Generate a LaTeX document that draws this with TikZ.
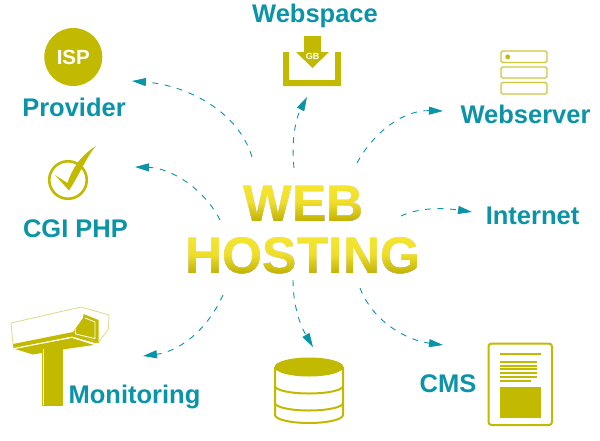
\documentclass[tikz,border=0pt]{standalone}
\usepackage{fontspec}
\setmainfont{Liberation Sans}
\usetikzlibrary{arrows.meta,shadings}
\definecolor{teal0}{HTML}{0B93A8}
\definecolor{olive0}{HTML}{C2BA00}
\definecolor{olivelight}{HTML}{DDD98A}
\definecolor{oliveline}{HTML}{CDC73E}
\tikzset{
  lab/.style={font=\fontsize{25.5}{26}\selectfont\bfseries,text=teal0,anchor=base,inner sep=0pt},
  title/.style={font=\fontsize{51.5}{52}\selectfont\bfseries,text=black,anchor=base,inner sep=0pt},
  flow/.style={draw=teal0,line width=0.9pt,dash pattern=on 6pt off 6.5pt,-{Triangle[length=14pt,width=8pt,fill=teal0]}},
  grad/.style={top color=F1,bottom color=F3,middle color=F2},
}
\definecolor{F1}{HTML}{F5E830}
\definecolor{F2}{HTML}{EEDE2A}
\definecolor{F3}{HTML}{BFB000}
\begin{document}
\begin{tikzpicture}[x=1pt,y=-1pt]
\useasboundingbox (0,0) rectangle (600,440);
\fill[white] (0,0) rectangle (600,440);
% title
\node[title] (web) at (303.5,221) {WEB};
\node[title] (hosting) at (303,273.5) {HOSTING};
\shade[grad,blend mode=lighten] (236,183) rectangle (370,221.5);
\shade[grad,blend mode=lighten] (180,234.5) rectangle (426,274.5);
% labels
\node[lab] (provider) at (74,116) {Provider};
\node[lab] (cgi) at (75.5,237) {CGI PHP};
\node[lab] (monitoring) at (134.5,403) {Monitoring};
\node[lab] (webspace) at (315,22) {Webspace};
\node[lab] (webserver) at (525.5,123) {Webserver};
\node[lab] (internet) at (532.5,224) {Internet};
\node[lab] (cms) at (448,392) {CMS};
% ISP
\node[circle,fill=olive0,minimum size=58pt,inner sep=0pt,text=white,font=\fontsize{20.5}{21}\selectfont\bfseries] (isp) at (73.3,57) {ISP};
% check
\node[circle,draw=olive0,line width=2.6pt,minimum size=37.5pt,inner sep=0pt] (chk) at (68,180) {};
\fill[olive0] (55,175) -- (67.5,183) .. controls (72,169) and (80,156) .. (96,146)
  .. controls (87,156) and (82,170) .. (69,190.5) -- cycle;
% webspace icon
\fill[olive0] (283,52) -- (289,52) -- (289,80) -- (335,80) -- (335,52) -- (341,52) -- (341,86) -- (283,86) -- cycle;
\fill[olive0] (304,36) -- (321,36) -- (321,52) -- (329,52) -- (312.5,68) -- (296,52) -- (304,52) -- cycle;
\node[text=white,font=\fontsize{9}{9}\selectfont\bfseries,inner sep=0pt] (gb) at (312.5,56.5) {GB};
% webserver icon
\draw[oliveline,line width=1.2pt,rounded corners=1.5pt] (501,51) rectangle (547,62.5);
\draw[oliveline,line width=1.2pt,rounded corners=1.5pt] (501,67) rectangle (547,78);
\draw[oliveline,line width=1.2pt,rounded corners=1.5pt] (501,82.5) rectangle (547,94);
\fill[olive0] (507.7,56.8) circle (2.4pt);
% monitoring icon
\draw[olivelight,line width=0.8pt] (13,344) -- (11,323) -- (81,307) -- (109,315) -- (108.5,329) -- (98,343);
\fill[olive0] (13,344) -- (73,332) -- (98,343) -- (95,343) -- (72,336.5) -- (13.5,348) -- cycle;
\fill[olive0] (15,349) -- (72,338) -- (94,345) -- (62,349.5) -- (33,354.5) -- cycle;
\fill[olive0] (73,332) -- (83,318) -- (83.5,314) -- (98.5,320) -- (98.5,343) -- cycle;
\draw[white,line width=0.8pt] (75,328) -- (75.5,334) -- (95,338.5) -- (95,322) -- (85,318);
\fill[olive0] (41.5,348.5) -- (63,348.5) -- (63,405.5) -- (41.5,405.5) -- cycle;
\draw[white,line width=1.1pt] (43.5,349) -- (43.5,404.5);
% database icon
\draw[olive0,line width=2pt] (275,367) -- (275,415) arc[start angle=180,end angle=360,x radius=34,y radius=-8] -- (343,367);
\draw[olive0,line width=2pt] (275,386) arc[start angle=180,end angle=360,x radius=34,y radius=-7.5];
\draw[olive0,line width=2pt] (275,403) arc[start angle=180,end angle=360,x radius=34,y radius=-7.5];
\fill[olive0] (309,367) ellipse[x radius=34.5,y radius=9.5];
% cms icon
\draw[olive0,line width=2pt,rounded corners=3pt] (488.5,343.5) rectangle (552,425);
\fill[olive0] (500,353) rectangle (541,355.3);
\foreach \yy in {361,364.7,368.4,372.1,376} {\fill[olive0] (500,\yy) rectangle (537,\yy+2);}
\fill[olive0] (500,380) rectangle (531,382);
\fill[olive0] (500,387) rectangle (541,418);
% flows
\coordinate (s1) at (252,157); \coordinate (t1) at (132,81);
\coordinate (s2) at (220,220); \coordinate (t2) at (135,167);
\coordinate (s3) at (294,168); \coordinate (t3) at (307,97);
\coordinate (s4) at (357,163); \coordinate (t4) at (443,111);
\coordinate (s5) at (401,216); \coordinate (t5) at (472,212);
\coordinate (s6) at (223,295); \coordinate (t6) at (143,356);
\coordinate (s7) at (293,280); \coordinate (t7) at (313,347);
\coordinate (s8) at (360,288); \coordinate (t8) at (443,345);
\draw[flow] (s1) .. controls (238,110) and (185,85) .. (t1);
\draw[flow] (s2) .. controls (205,190) and (172,168) .. (t2);
\draw[flow] (s3) .. controls (291,140) and (296,118) .. (t3);
\draw[flow] (s4) .. controls (375,130) and (405,110) .. (t4);
\draw[flow] (s5) .. controls (420,207) and (445,208) .. (t5);
\draw[flow] (s6) .. controls (205,335) and (175,352) .. (t6);
\draw[flow] (s7) .. controls (293,305) and (300,325) .. (t7);
\draw[flow] (s8) .. controls (372,320) and (405,340) .. (t8);
\end{tikzpicture}
\end{document}
